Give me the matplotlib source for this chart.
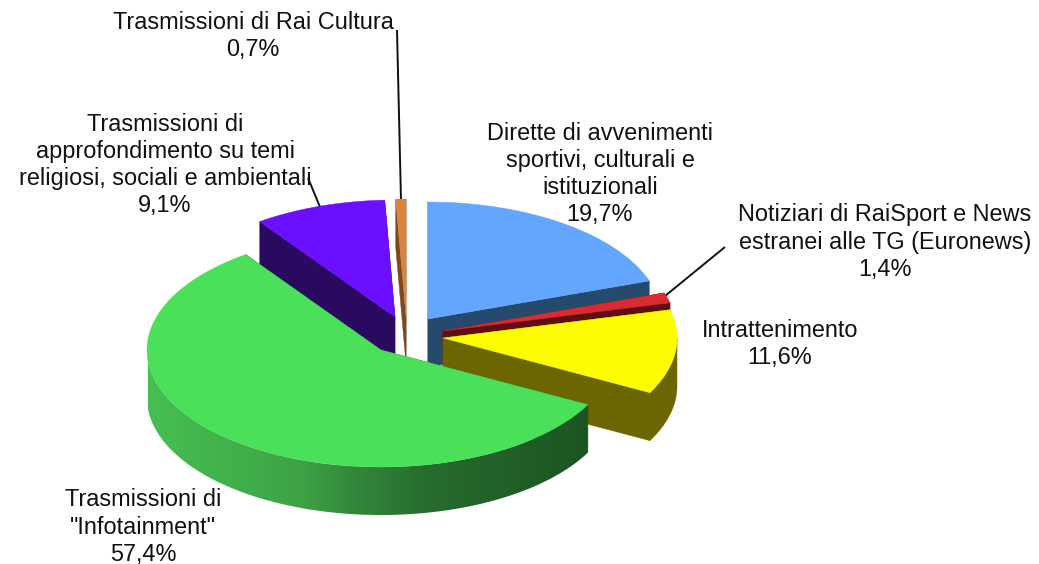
import numpy as np
import matplotlib
matplotlib.use('Agg')
import matplotlib.pyplot as plt
from matplotlib.colors import LinearSegmentedColormap
from matplotlib.patches import Polygon

plt.rcParams['font.family'] = ['Liberation Sans', 'DejaVu Sans']

# slices, clockwise from 12 o'clock
labels = ['Dirette di avvenimenti\nsportivi, culturali e\nistituzionali',
          'Notiziari di RaiSport e News\nestranei alle TG (Euronews)',
          'Intrattenimento',
          'Trasmissioni di\n"Infotainment"',
          'Trasmissioni di\napprofondimento su temi\nreligiosi, sociali e ambientali',
          'Trasmissioni di Rai Cultura']
values = [19.7, 1.4, 11.6, 57.4, 9.1, 0.7]
value_labels = ['19,7%', '1,4%', '11,6%', '57,4%', '9,1%', '0,7%']

top_colors = ['#62a6ff', '#d92b30', '#fdfc00', '#4be05a', '#6a0fff', '#d9843f']
side_colors = ['#264a6e', '#5f0f14', '#6b6600', '#1c5522', '#2a0a60', '#7a4a1e']

# pie geometry in pixels
rx, ry, depth = 234, 117, 48
apex_x = [428, 443, 443, 381, 395, 406]
apex_y = [319, 331, 338, 350, 317, 316]
draw_order = [0, 5, 4, 1, 2, 3]

label_pos = [(600, 174), (885, 242), (780, 344), (143, 527), (165, 165), (253, 36)]
leaders = [((665, 296), (725, 247)), ((320, 207), (308, 178)), ((401, 200), (397, 30))]

green_stops = [(148, '#46bf52'), (230, '#42b04c'), (300, '#3ea346'),
               (350, '#33893b'), (430, '#276b2d'), (587, '#1c5522')]


def arc(cx, cy, a, b):
    t = np.radians(np.linspace(a, b, 150))
    return np.column_stack([cx + rx * np.sin(t), cy - ry * np.cos(t)])


fig = plt.figure(figsize=(10.39, 5.64), dpi=100)
ax = fig.add_axes([0, 0, 1, 1])
shift = np.array([0, depth])

edges = np.concatenate([[0], np.cumsum(values)]) / np.sum(values) * 360
for z, i in enumerate(draw_order):
    a, b = edges[i], edges[i + 1]
    cx, cy = apex_x[i], apex_y[i]
    apex = np.array([cx, cy])
    base = 10 * (z + 1)

    # the two cut faces
    for ang in (a, b):
        outer = arc(cx, cy, ang, ang)[0]
        ax.add_patch(Polygon([apex, outer, outer + shift, apex + shift],
                             fc=side_colors[i], ec=side_colors[i], lw=0.3, zorder=base))

    # rim, only the part turned to the viewer
    lo, hi = max(a, 90), min(b, 270)
    if lo < hi:
        rim = arc(cx, cy, lo, hi)
        rim_poly = np.vstack([rim, (rim + shift)[::-1]])
        if i == 3:
            xs = [s[0] for s in green_stops]
            span = (xs[0], xs[-1])
            cmap = LinearSegmentedColormap.from_list(
                'green_side', [((x - span[0]) / (span[1] - span[0]), c) for x, c in green_stops])
            patch = Polygon(rim_poly, fc='none', ec='none', zorder=base + 1)
            ax.add_patch(patch)
            im = ax.imshow(np.linspace(0, 1, 400)[None, :], cmap=cmap, aspect='auto',
                           extent=[span[0], span[1], 520, 340], zorder=base + 1)
            im.set_clip_path(patch)
        else:
            ax.add_patch(Polygon(rim_poly, fc=side_colors[i], ec=side_colors[i],
                                 lw=0.3, zorder=base + 1))

    # top face
    ax.add_patch(Polygon(np.vstack([apex, arc(cx, cy, a, b)]), fc=top_colors[i],
                         ec=top_colors[i], lw=0.3, zorder=base + 2))

for start, end in leaders:
    ax.plot([start[0], end[0]], [start[1], end[1]], color='#111111', lw=1.4, zorder=5,
            solid_capstyle='butt')
for (x, y), name, val in zip(label_pos, labels, value_labels):
    ax.text(x, y, name + '\n' + val, ha='center', va='center', fontsize=16.9,
            color='#111111', linespacing=1.23, zorder=200)

ax.set_xlim(0, 1039)
ax.set_ylim(564, 0)
ax.axis('off')
fig.savefig('out.png', dpi=100)
